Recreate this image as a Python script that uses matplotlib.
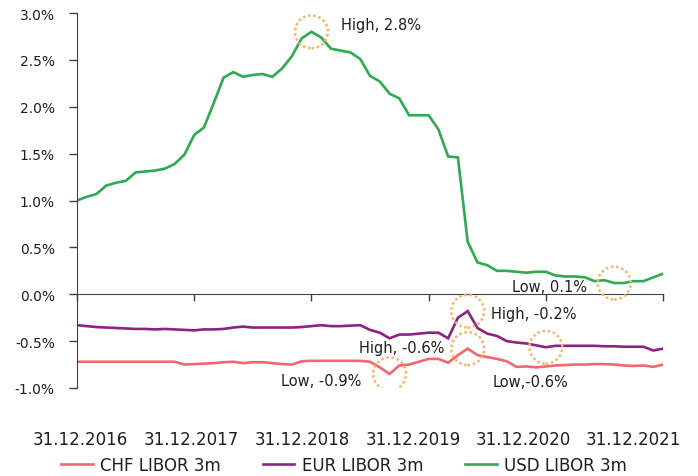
import matplotlib
matplotlib.use("Agg")
import matplotlib.pyplot as plt
import numpy as np
from matplotlib.ticker import FuncFormatter

plt.rcParams["font.family"] = ["DejaVu Sans"]
plt.rcParams["axes.unicode_minus"] = False

# month-end values, 31.12.2016 .. 31.12.2021 (in %)
year_labels = ["31.12.2016", "31.12.2017", "31.12.2018", "31.12.2019", "31.12.2020", "31.12.2021"]

chf_libor = [
    -0.72, -0.72, -0.72, -0.72, -0.72, -0.72, -0.72, -0.72, -0.72, -0.72,
    -0.72, -0.75, -0.745, -0.74, -0.735, -0.725, -0.72, -0.735, -0.725, -0.725,
    -0.735, -0.745, -0.75, -0.715, -0.71, -0.71, -0.71, -0.71, -0.71, -0.71,
    -0.72, -0.78, -0.85, -0.76, -0.75, -0.72, -0.69, -0.69, -0.73, -0.65,
    -0.58, -0.65, -0.67, -0.69, -0.715, -0.775, -0.77, -0.78, -0.77, -0.76,
    -0.755, -0.75, -0.75, -0.745, -0.745, -0.75, -0.76, -0.765, -0.76, -0.775,
    -0.75,
]
eur_libor = [
    -0.33, -0.34, -0.35, -0.355, -0.36, -0.365, -0.37, -0.37, -0.375, -0.37,
    -0.375, -0.38, -0.385, -0.375, -0.375, -0.37, -0.355, -0.345, -0.355, -0.355,
    -0.355, -0.355, -0.355, -0.35, -0.34, -0.33, -0.34, -0.34, -0.335, -0.33,
    -0.38, -0.41, -0.47, -0.43, -0.43, -0.42, -0.41, -0.41, -0.47, -0.25,
    -0.18, -0.36, -0.42, -0.445, -0.50, -0.515, -0.525, -0.545, -0.565, -0.55,
    -0.55, -0.55, -0.55, -0.55, -0.555, -0.555, -0.56, -0.56, -0.56, -0.60,
    -0.58,
]
usd_libor = [
    1.00, 1.04, 1.07, 1.16, 1.19, 1.21, 1.30, 1.31, 1.32, 1.34,
    1.39, 1.49, 1.70, 1.78, 2.04, 2.31, 2.37, 2.32, 2.34, 2.35,
    2.32, 2.41, 2.54, 2.73, 2.80, 2.74, 2.62, 2.60, 2.58, 2.51,
    2.33, 2.27, 2.14, 2.09, 1.91, 1.91, 1.91, 1.76, 1.47, 1.46,
    0.56, 0.34, 0.31, 0.25, 0.25, 0.24, 0.23, 0.24, 0.24, 0.20,
    0.19, 0.19, 0.18, 0.14, 0.15, 0.12, 0.12, 0.14, 0.14, 0.18,
    0.22,
]
months = np.arange(len(usd_libor))

series = {
    "CHF LIBOR 3m": (chf_libor, "#F2666F"),
    "EUR LIBOR 3m": (eur_libor, "#8A2381"),
    "USD LIBOR 3m": (usd_libor, "#2DAA52"),
}

# callouts: series, month index of the marked point, label, text offset in pixels
callouts = [
    ("USD LIBOR 3m", 24, "High, 2.8%", (30, 7)),
    ("USD LIBOR 3m", 55, "Low, 0.1%", (-102, -3)),
    ("EUR LIBOR 3m", 40, "High, -0.2%", (23, -2)),
    ("EUR LIBOR 3m", 48, "Low,-0.6%", (-53, -34)),
    ("CHF LIBOR 3m", 40, "High, -0.6%", (-109, 1)),
    ("CHF LIBOR 3m", 32, "Low, -0.9%", (-109, -7)),
]

axis_color = "#404040"
text_color = "#1e1e1e"

fig = plt.figure(figsize=(6.98, 4.77), dpi=100)
ax = fig.add_axes([0.1103, 0.1845, 0.8396, 0.786])

for name, (vals, color) in series.items():
    ax.plot(months, vals, color=color, lw=1.9, label=name, solid_joinstyle="miter")

for name, i, text, (dx, dy) in callouts:
    vals = series[name][0]
    ax.scatter([months[i]], [vals[i]], s=560, facecolors="none", edgecolors="#F8B26A",
               linewidths=1.8, linestyles=(0, (1, 1.1)), zorder=4)
    ax.annotate(text, xy=(months[i], vals[i]), xytext=(dx, dy), textcoords="offset pixels",
                ha="left", va="center", fontsize=10.5, color=text_color)

ymin, ymax = -1.0, 3.0
ax.set_xlim(0, 60)
ax.set_ylim(ymin, ymax)
ax.set_yticks(np.arange(ymin, ymax + 0.01, 0.5))
ax.yaxis.set_major_formatter(FuncFormatter(lambda v, _: f"{v:.1f}%"))
ax.tick_params(axis="y", length=6, width=1, pad=10, labelsize=10,
               color=axis_color, labelcolor=text_color)
for s in ("top", "right", "bottom"):
    ax.spines[s].set_visible(False)
ax.spines["left"].set_color(axis_color)

# date labels sit below the plot, slightly off the yearly tick marks
label_pos = [0.3, 11.7, 23.1, 34.4, 45.7, 57.0]
ax.set_xticks(label_pos, year_labels)
ax.tick_params(axis="x", length=0, pad=30, labelsize=12, labelcolor=text_color)

# zero line with yearly tick marks
zero = ax.secondary_xaxis((0 - ymin) / (ymax - ymin))
zero.set_xticks(np.arange(0, 61, 12), [""] * 6)
zero.tick_params(length=5, width=1, direction="out", color=axis_color)
zero.spines["bottom"].set_color(axis_color)

fig.legend(loc="center", bbox_to_anchor=(344 / 698, 11 / 477), ncol=3, frameon=False,
           fontsize=12, handlelength=1.9, handletextpad=0.45, columnspacing=2.5,
           labelcolor=text_color)

fig.savefig("out.png", dpi=100)
